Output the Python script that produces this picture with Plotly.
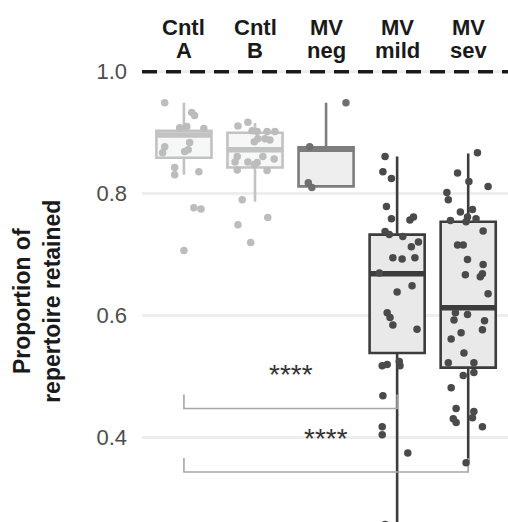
import plotly.graph_objects as go

# ---------------- data ----------------
categories = ["Cntl A", "Cntl B", "MV neg", "MV mild", "MV sev"]
cat_line1 = ["Cntl", "Cntl", "MV", "MV", "MV"]
cat_line2 = ["A", "B", "neg", "mild", "sev"]

# box statistics (q1, median, q3, lower whisker, upper whisker)
q1 = [0.859, 0.843, 0.812, 0.539, 0.515]
median = [0.896, 0.872, 0.873, 0.669, 0.613]
q3 = [0.903, 0.900, 0.876, 0.733, 0.754]
lower_whisker = [0.831, 0.787, 0.810, 0.20, 0.361]
upper_whisker = [0.949, 0.916, 0.949, 0.861, 0.866]

# individual points (values) and their horizontal jitter (category units)
cntlA_vals = [0.949, 0.933, 0.928, 0.908, 0.910, 0.907, 0.877, 0.867, 0.869, 0.872, 0.884,
              0.843, 0.831, 0.836, 0.777, 0.775, 0.707]
cntlA_jit = [-0.27, 0.11, 0.15, -0.06, 0.04, 0.28, -0.27, -0.30, 0.01, 0.06, 0.08,
             -0.13, -0.13, 0.21, 0.14, 0.24, 0.0]

cntlB_vals = [0.911, 0.917, 0.903, 0.902, 0.902, 0.902, 0.890, 0.885, 0.890, 0.888, 0.861,
              0.852, 0.852, 0.857, 0.861, 0.839, 0.848, 0.851, 0.838, 0.790, 0.761, 0.749, 0.720]
cntlB_jit = [-0.24, -0.10, -0.04, 0.03, 0.17, 0.28, 0.14, -0.01, 0.04, 0.21, -0.25,
             -0.28, -0.10, 0.27, 0.11, -0.25, -0.01, 0.03, 0.17, -0.18, 0.18, -0.24, -0.06]

mvneg_vals = [0.949, 0.877, 0.818, 0.810]
mvneg_jit = [0.28, -0.23, -0.25, -0.20]

mvmild_vals = [0.861, 0.836, 0.825, 0.779, 0.759, 0.757, 0.762, 0.738, 0.733, 0.730, 0.721,
               0.713, 0.695, 0.693, 0.695, 0.670, 0.639, 0.649, 0.605, 0.597, 0.585, 0.578,
               0.518, 0.520, 0.525, 0.518, 0.469, 0.418, 0.405, 0.375, 0.258]
mvmild_jit = [-0.17, -0.20, -0.08, -0.15, -0.08, 0.18, 0.23, -0.17, -0.11, 0.08, 0.30,
              0.20, -0.06, 0.07, 0.25, -0.25, 0.0, 0.21, -0.14, -0.10, -0.06, 0.28,
              -0.21, -0.14, 0.03, 0.04, -0.20, -0.21, -0.21, 0.15, -0.17]

mvsev_vals = [0.867, 0.834, 0.820, 0.812, 0.802, 0.790, 0.770, 0.774, 0.762, 0.759, 0.756,
              0.754, 0.739, 0.716, 0.716, 0.692, 0.684, 0.667, 0.664, 0.669, 0.636, 0.605,
              0.602, 0.593, 0.592, 0.577, 0.572, 0.562, 0.539, 0.523, 0.523, 0.502, 0.507,
              0.482, 0.448, 0.443, 0.431, 0.425, 0.433, 0.418, 0.359]
mvsev_jit = [0.13, -0.15, 0.01, 0.28, -0.30, -0.28, -0.11, 0.06, -0.01, 0.11, -0.25,
             -0.03, 0.21, -0.15, -0.07, -0.01, 0.21, -0.04, 0.17, 0.20, 0.28, -0.18,
             -0.01, -0.20, 0.23, 0.20, -0.10, -0.24, -0.06, -0.28, 0.08, -0.07, 0.08,
             -0.24, -0.17, 0.08, -0.21, -0.17, 0.06, 0.20, -0.03]

# significance comparisons: (from group index, to group index, bracket value, label)
comp_from = [0, 0]
comp_to = [3, 4]
comp_y = [0.448, 0.344]
comp_label = ["****", "****"]

reference_line = 1.0
y_ticks = [0.4, 0.6, 0.8, 1.0]

# ---------------- styling ----------------
points_vals = [cntlA_vals, cntlB_vals, mvneg_vals, mvmild_vals, mvsev_vals]
points_jit = [cntlA_jit, cntlB_jit, mvneg_jit, mvmild_jit, mvsev_jit]
line_colors = ["#c2c2c2", "#c2c2c2", "#7d7d7d", "#3c3c3c", "#3c3c3c"]
fill_colors = ["#f6f7f7", "#f6f7f7", "#eeeeee", "#e9e9ea", "#e9e9ea"]
point_colors = ["#bcbcbc", "#bcbcbc", "#6f6f6f", "#4a4a4a", "#4a4a4a"]
box_width = 0.775

FONT = "Liberation Sans, Arial, Helvetica, sans-serif"

fig = go.Figure()

for i in range(len(categories)):
    fig.add_trace(go.Box(
        x=[i], q1=[q1[i]], median=[median[i]], q3=[q3[i]],
        lowerfence=[lower_whisker[i]], upperfence=[upper_whisker[i]],
        width=box_width, whiskerwidth=0,
        line=dict(color=line_colors[i], width=2.6),
        fillcolor=fill_colors[i], boxpoints=False,
        showlegend=False, hoverinfo="skip",
    ))
    # thick median bar
    fig.add_trace(go.Scatter(
        x=[i - box_width / 2, i + box_width / 2], y=[median[i], median[i]],
        mode="lines", line=dict(color=line_colors[i], width=5.5),
        showlegend=False, hoverinfo="skip",
    ))

# significance brackets (drawn beneath the points)
tick_h = 0.023
for f, t, yv in zip(comp_from, comp_to, comp_y):
    fig.add_trace(go.Scatter(
        x=[f, f, t, t], y=[yv + tick_h, yv, yv, yv + tick_h],
        mode="lines", line=dict(color="#a6a6a6", width=1.6),
        showlegend=False, hoverinfo="skip",
    ))

for i in range(len(categories)):
    fig.add_trace(go.Scatter(
        x=[i + j for j in points_jit[i]], y=points_vals[i],
        mode="markers",
        marker=dict(color=point_colors[i], size=7.5, line=dict(width=0)),
        showlegend=False, hoverinfo="skip",
    ))

for f, t, yv, lab in zip(comp_from, comp_to, comp_y, comp_label):
    fig.add_annotation(
        x=(f + t) / 2, y=yv + 0.055, xref="x", yref="y",
        text=lab, showarrow=False,
        font=dict(family=FONT, size=28, color="#333333"),
        yanchor="middle",
    )

# dashed reference line at 1.0
fig.add_shape(type="line", xref="paper", yref="y", x0=0, x1=1,
              y0=reference_line, y1=reference_line,
              line=dict(color="#1a1a1a", width=3.5, dash="15px,9px"))

# category labels on top (two lines each)
for i in range(len(categories)):
    fig.add_annotation(x=i, y=1.0903, xref="x", yref="paper", text=cat_line1[i],
                       showarrow=False, yanchor="middle",
                       font=dict(family=FONT, size=22, color="#1a1a1a", weight="bold"))
    fig.add_annotation(x=i, y=1.0396, xref="x", yref="paper", text=cat_line2[i],
                       showarrow=False, yanchor="middle",
                       font=dict(family=FONT, size=22, color="#1a1a1a", weight="bold"))

# y axis title
fig.add_annotation(x=-0.287, y=0.487, xref="paper", yref="paper",
                   text="Proportion of<br>repertoire retained", textangle=-90,
                   showarrow=False, xanchor="center", yanchor="middle",
                   font=dict(family=FONT, size=23, color="#1a1a1a", weight="bold"))

fig.update_layout(
    width=508, height=522,
    margin=dict(l=142, r=0, t=68, b=0),
    plot_bgcolor="white", paper_bgcolor="white",
    font=dict(family=FONT),
    xaxis=dict(range=[-0.59, 4.56], showticklabels=False, showgrid=False,
               zeroline=False, showline=False, ticks=""),
    yaxis=dict(range=[0.262, 1.006], tickvals=y_ticks,
               ticktext=[f"{v:.1f}" for v in y_ticks],
               tickfont=dict(family=FONT, size=22, color="#4d4d4d"),
               showgrid=True, gridcolor="#eeeeee", gridwidth=2.5,
               zeroline=False, showline=False, ticks="", ticklabelstandoff=14),
)

fig.write_html("out.html", config={"displayModeBar": False},
               post_script="document.body.style.margin='0';")
